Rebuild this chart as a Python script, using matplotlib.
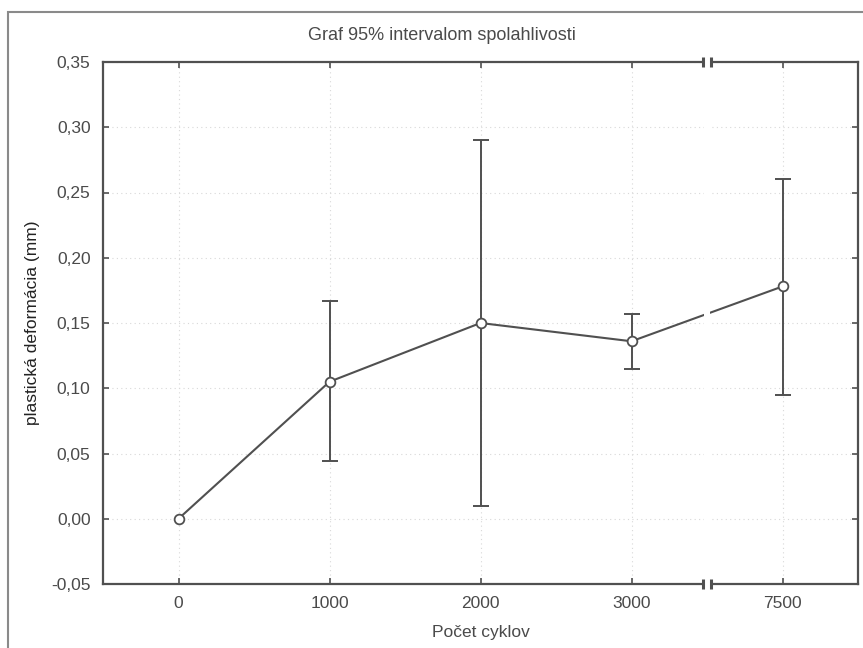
#! /usr/bin/env python3

"Graf 95% intervalom spolahlivosti - plasticka deformacia vs pocet cyklov"

import matplotlib
matplotlib.use("Agg")
import matplotlib.pyplot as plt
from matplotlib.patches import Rectangle

cycles = ["0", "1000", "2000", "3000", "7500"]
mean_def = [0.000, 0.105, 0.150, 0.136, 0.178]
ci_low = [0.000, 0.044, 0.010, 0.115, 0.095]
ci_high = [0.000, 0.167, 0.290, 0.157, 0.260]
y_ticks = [-0.05, 0.00, 0.05, 0.10, 0.15, 0.20, 0.25, 0.30, 0.35]

plt.rcParams["font.family"] = ["Liberation Sans", "DejaVu Sans"]
dark = "#505050"
text_col = "#4a4a4a"

fig = plt.figure(figsize=(8.63, 6.48), dpi=100)
ax = fig.add_axes([103 / 863, 1 - 584 / 648, (858 - 103) / 863, (584 - 62) / 648])

x = list(range(len(cycles)))
err = [[m - lo for m, lo in zip(mean_def, ci_low)],
       [hi - m for m, hi in zip(mean_def, ci_high)]]

# error bars only where interval is non-zero
for i in x:
    if ci_high[i] > ci_low[i]:
        ax.errorbar(x[i], mean_def[i], yerr=[[err[0][i]], [err[1][i]]],
                    fmt="none", ecolor=dark, elinewidth=1.4, capsize=5.5, capthick=1.4, zorder=2)

ax.plot(x, mean_def, color=dark, lw=1.5, marker="o", markersize=7,
        markerfacecolor="white", markeredgecolor=dark, markeredgewidth=1.3, zorder=4)

# axis break between 3000 and 7500
brk = 3.5
ax.axvspan(brk - 0.022, brk + 0.022, ymin=-0.02, ymax=1.02, color="white",
           zorder=5, clip_on=False, lw=0)
trans = ax.get_xaxis_transform()
for bx in (brk - 0.025, brk + 0.025):
    for yy in (0, 1):
        ax.plot([bx, bx], [yy - 0.01, yy + 0.01], color=dark, lw=2.2,
                transform=trans, clip_on=False, zorder=6, solid_capstyle="butt")

ax.set_xlim(-0.5, 4.5)
ax.set_ylim(-0.05, 0.35)
ax.set_xticks(x)
ax.set_xticklabels(cycles)
ax.set_yticks(y_ticks)
ax.set_yticklabels([f"{v:.2f}".replace(".", ",") for v in y_ticks])

ax.grid(True, linestyle=(0, (1, 3)), color="#d8d8d8", lw=0.8)
ax.set_axisbelow(True)
ax.tick_params(direction="in", length=4, width=1.2, color=dark, top=True, right=True,
               labelsize=12.5, labelcolor=text_col, pad=9)
for s in ax.spines.values():
    s.set_color(dark)
    s.set_linewidth(1.6)

ax.set_xlabel("Počet cyklov", fontsize=12.5, color=text_col, labelpad=10)
ax.set_ylabel("plastická deformácia (mm)", fontsize=12.5, color="#222222", labelpad=8)

fig.text(442 / 863, 1 - 35 / 648, "Graf 95% intervalom spolahlivosti",
         ha="center", va="center", fontsize=13, color=text_col)

# outer frame
fig.patches.append(Rectangle((8 / 863, -0.1), 1.0, 1.1 - 12 / 648, transform=fig.transFigure,
                             fill=False, edgecolor="#8a8a8a", lw=1.5))

plt.savefig("out.png", dpi=100)
